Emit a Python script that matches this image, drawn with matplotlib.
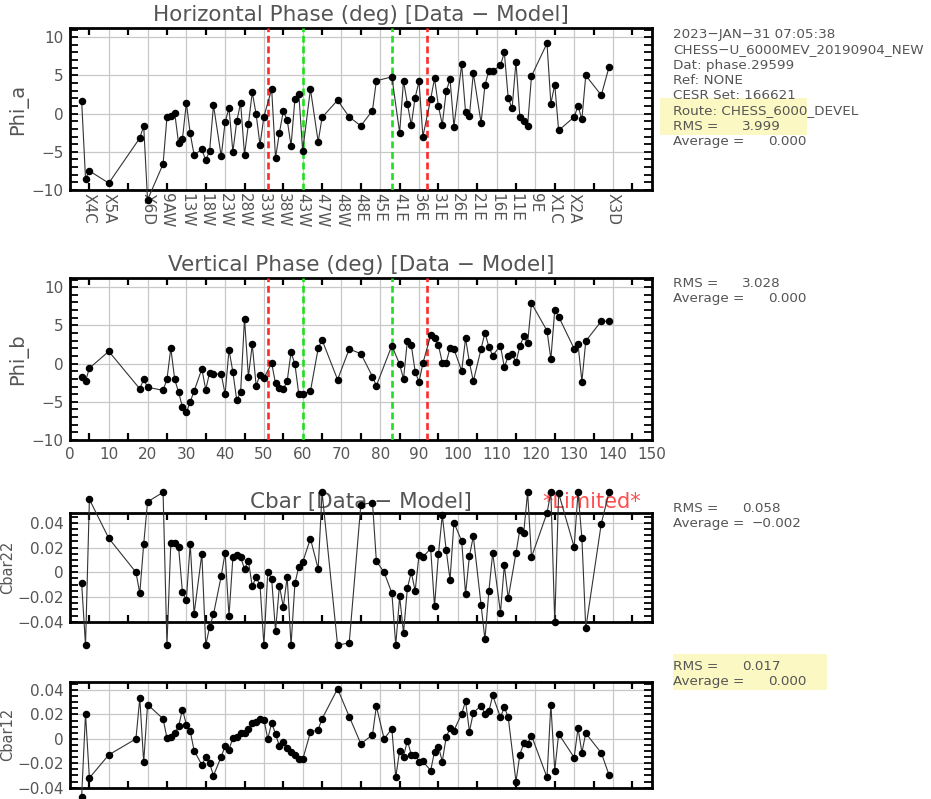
import numpy as np
import matplotlib
matplotlib.use('Agg')
import matplotlib.pyplot as plt
from matplotlib import transforms
from matplotlib.patches import Rectangle

# ---------------- data ----------------
x_phase = [3, 4, 5, 10, 18, 19, 20, 24, 25, 26, 27, 28, 29, 30, 31, 32, 34, 35, 36, 37,
           39, 40, 41, 42, 43, 44, 45, 46, 47, 48, 49, 50, 52, 53, 54, 55, 56, 57, 58, 59,
           60, 62, 64, 65, 69, 72, 75, 78, 79, 83, 85, 86, 87, 88, 89, 90, 91, 93, 94, 95,
           96, 97, 98, 99, 101, 102, 103, 104, 106, 107, 108, 109, 111, 112, 113, 114, 115,
           116, 117, 118, 119, 123, 124, 125, 126, 130, 131, 132, 133, 137, 139]

phi_a = [1.7, -8.5, -7.5, -9.1, -3.2, -1.6, -11.3, -6.6, -0.5, -0.3, 0.1, -3.9, -3.3, 1.4,
         -2.6, -5.4, -4.7, -6.1, -4.9, 1.1, -5.6, -1.1, 0.7, -5.0, -1.0, 1.4, -5.4, -1.4,
         2.8, -0.1, -4.1, -0.4, 3.2, -5.8, -2.5, 0.3, -0.8, -4.2, 1.9, 2.6, -4.9, 3.2, -3.7,
         -0.5, 1.75, -0.45, -1.6, 0.4, 4.3, 4.8, -2.5, 4.3, 1.3, -1.5, 2.1, 4.2, -3.0, 1.9,
         4.6, 1.0, -1.45, 2.9, 4.5, -1.7, 6.45, 0.2, -0.3, 5.3, -1.2, 3.7, 5.6, 5.6, 6.3,
         8.0, 2.0, 0.7, 6.8, -0.45, -1.0, -1.6, 4.9, 9.2, 1.3, 3.8, -2.2, -0.45, 1.0, -0.75,
         5.0, 2.4, 6.1]

phi_b = [-1.8, -2.3, -0.6, 1.6, -3.3, -2.05, -3.1, -3.5, -2.05, 2.0, -2.05, -3.75, -5.7,
         -6.4, -5.0, -3.6, -0.7, -3.4, -1.2, -1.35, -1.4, -4.0, 1.8, -1.1, -4.8, -3.7, 5.9,
         -1.7, 2.5, -2.9, -1.45, -1.9, 0.05, -2.6, -3.2, -3.35, -2.3, 1.5, -0.1, -4.0, -4.0,
         -3.6, 2.0, 3.1, -2.1, 1.9, 1.3, -1.7, -2.9, 2.35, -0.1, -2.0, 3.0, 2.45, -1.05,
         -2.4, 0.05, 3.7, 3.4, 2.45, 0.1, 0.1, 2.05, 1.9, -0.95, 3.3, 0.15, -2.3, 1.9, 4.05,
         2.2, 1.05, 2.35, -0.5, 1.0, 1.3, 0.15, 2.3, 3.55, 2.7, 7.9, 4.3, 0.6, 7.0, 6.15,
         1.95, 2.55, -2.35, 2.95, 5.55, 5.55]

x_cbar = [3, 4, 5, 10, 17, 18, 19, 20, 24, 25, 26, 27, 28, 29, 30, 31, 32, 34, 35, 36, 37,
          39, 40, 41, 42, 43, 44, 45, 46, 47, 48, 49, 50, 51, 52, 53, 54, 55, 56, 57, 58, 59,
          60, 62, 64, 65, 69, 72, 75, 78, 79, 81, 83, 84, 85, 86, 87, 88, 89, 90, 91, 93, 94,
          95, 96, 97, 98, 99, 101, 102, 103, 104, 106, 107, 108, 109, 111, 112, 113, 115,
          116, 117, 118, 119, 123, 124, 125, 126, 130, 131, 132, 133, 137, 139]

cbar22 = [-0.0087, -0.059, 0.059, 0.0275, 0.0, -0.017, 0.0226, 0.057, 0.0647, -0.059,
          0.024, 0.0234, 0.0204, -0.0163, -0.0223, 0.0231, -0.0337, 0.0149, -0.059, -0.0443,
          -0.034, -0.003, 0.0158, -0.0356, 0.012, 0.0141, 0.0122, 0.0027, 0.0092, -0.0114,
          -0.0038, -0.0106, -0.059, 0.0, -0.0054, -0.0476, -0.0109, -0.028, -0.0038, -0.059,
          -0.009, 0.0046, 0.0082, 0.0272, 0.0027, 0.0647, -0.059, -0.0571, 0.0547, 0.0563,
          0.009, 0.0, -0.0169, -0.059, -0.0196, -0.049, -0.0128, 0.0, -0.015, 0.0139, 0.0122,
          0.0193, -0.0277, 0.0144, 0.0463, 0.018, -0.006, 0.0402, 0.0253, -0.0177, 0.0131,
          0.0291, -0.0264, -0.0544, -0.0155, 0.0155, -0.0326, 0.0057, -0.021, 0.0155, 0.0345,
          0.0321, 0.0647, 0.0122, 0.0479, 0.0647, -0.0405, 0.064, 0.0204, 0.0647, 0.0275,
          -0.0454, 0.0394, 0.0647]

cbar12 = [-0.0473, 0.0205, -0.032, -0.0131, 0.0, 0.0333, -0.0192, 0.0281, 0.0164, 0.0008,
          0.0019, 0.0046, 0.0103, 0.024, 0.0117, 0.0063, -0.0096, -0.0213, -0.0151, -0.02,
          -0.0301, -0.0145, -0.006, -0.0088, 0.0008, 0.0014, 0.0049, 0.0049, 0.0082, 0.0128,
          0.0136, 0.0164, 0.0158, 0.0, 0.0131, 0.0041, -0.006, -0.0022, -0.0077, -0.011,
          -0.0129, -0.0164, -0.0169, 0.0054, 0.0076, 0.0164, 0.041, 0.0183, -0.0041, 0.0033,
          0.0267, 0.0, 0.0082, -0.0315, -0.0096, -0.0145, -0.0014, -0.0129, -0.0129, -0.0186,
          -0.0183, -0.026, -0.0104, -0.0063, -0.0186, 0.0014, 0.0087, 0.0068, 0.0205, 0.0309,
          0.006, 0.0213, 0.0273, 0.0205, 0.0224, 0.0355, 0.0177, 0.0259, 0.0177, -0.035,
          -0.0129, -0.0036, -0.0041, 0.0027, -0.0315, 0.0281, -0.026, 0.0041, -0.0153, 0.0087,
          -0.0112, 0.0046, -0.0115, -0.0295]

elem_pos = [5, 10, 20, 25, 30, 35, 40, 45, 50, 55, 60, 65, 70, 75, 80, 85, 90, 95, 100,
            105, 110, 115, 120, 125, 130, 140]
elem_names = ['X4C', 'X5A', 'X6D', '9AW', '13W', '18W', '23W', '28W', '33W', '38W', '43W',
              '47W', '48W', '48E', '45E', '41E', '36E', '31E', '26E', '21E', '16E', '11E',
              '9E', 'X1C', 'X2A', 'X3D']

red_lines = [51, 92]
green_lines = [60, 83]

phase_ticks = [-10, -5, 0, 5, 10]
phase_ticklabels = ['\u221210', '\u22125', '0', '5', '10']
cbar_ticks = [-0.04, -0.02, 0, 0.02, 0.04]
cbar_ticklabels = ['\u22120.04', '\u22120.02', '0', '0.02', '0.04']
x_ticks = list(range(0, 151, 10))

# ---------------- figure ----------------
W, H = 931, 799
fig = plt.figure(figsize=(W / 100, H / 100), dpi=100)
TEXT = '#555555'
TICK_FS = 11


def fx(x):
    return x / W


def fy(y):
    return 1 - y / H


def add_ax(top, bottom):
    return fig.add_axes([fx(70), fy(bottom), (651.7 - 70) / W, (bottom - top) / H])


def style(ax, ylim, yt, ytl, yminor):
    ax.set_xlim(0, 150)
    ax.set_ylim(*ylim)
    ax.set_xticks(x_ticks)
    ax.set_xticks(np.arange(5, 150, 10), minor=True)
    ax.set_yticks(yt)
    ax.set_yticklabels(ytl)
    ax.set_yticks(yminor, minor=True)
    ax.grid(True, which='major', color='#c8c8c8', lw=0.9)
    ax.tick_params(axis='x', which='major', length=0, top=True, bottom=True,
                   labelbottom=False, labelsize=TICK_FS, labelcolor=TEXT, pad=5)
    ax.tick_params(axis='x', which='minor', length=5, width=1.6, direction='in',
                   top=True, bottom=True, color='black')
    ax.tick_params(axis='y', which='both', length=6, width=1.3, direction='in',
                   left=True, right=True, color='black')
    ax.tick_params(axis='y', which='major', labelsize=TICK_FS, labelcolor=TEXT, pad=4.5)
    for s in ax.spines.values():
        s.set_linewidth(2.0)
        s.set_color('black')


def plot_series(ax, x, y):
    ax.plot(x, y, '-', color='#333333', lw=0.8, clip_on=False, zorder=4)
    ax.plot(x, y, 'o', color='black', ms=4.4, clip_on=False, zorder=5)


def title(ax, txt, dy, x=0.5, color=TEXT, size=15.5):
    tr = transforms.offset_copy(ax.transAxes, fig=fig, x=0, y=dy, units='dots')
    ax.text(x, 1, txt, transform=tr, ha='center', va='center', fontsize=size,
            color=color, zorder=1, clip_on=False)


ax1 = add_ax(28, 190)
ax2 = add_ax(278, 440)
ax3 = add_ax(513.3, 621.7)
ax4 = add_ax(681.7, 787.7)

style(ax1, (-10, 11.2), phase_ticks, phase_ticklabels, np.arange(-10, 12, 1))
style(ax2, (-10, 11.2), phase_ticks, phase_ticklabels, np.arange(-10, 12, 1))
style(ax3, (-0.04, 0.0477), cbar_ticks, cbar_ticklabels, np.arange(-0.04, 0.0476, 0.005))
style(ax4, (-0.04, 0.0468), cbar_ticks, cbar_ticklabels, np.arange(-0.04, 0.0466, 0.005))

ax2.tick_params(axis='x', which='major', labelbottom=True)
ax2.set_xticklabels([str(v) for v in x_ticks])

for ax in (ax1, ax2):
    for xv in red_lines:
        ax.axvline(xv, color='#ff2a2a', ls=(0, (2.6, 1.4)), lw=1.9, zorder=3)
    for xv in green_lines:
        ax.axvline(xv, color='#22dd22', ls=(0, (2.6, 1.4)), lw=1.9, zorder=3)

plot_series(ax1, x_phase, phi_a)
plot_series(ax2, x_phase, phi_b)
plot_series(ax3, x_cbar, cbar22)
plot_series(ax4, x_cbar, cbar12)

# element labels under top panel
tr_lab = transforms.offset_copy(ax1.get_xaxis_transform(), fig=fig, x=0, y=-3, units='dots')
for p, n in zip(elem_pos, elem_names):
    ax1.text(p, 0, n, transform=tr_lab, rotation=270, ha='center', va='top',
             fontsize=11, color=TEXT)

title(ax1, 'Horizontal Phase (deg) [Data \u2212 Model]', 13)
title(ax2, 'Vertical Phase (deg) [Data \u2212 Model]', 13)
title(ax3, 'Cbar [Data \u2212 Model]', 11)
title(ax3, '*Limited*', 11, x=(592 - 70) / 581.7, color='#ff4d4d', size=15)

# y labels
for txt, xc, yc, fs in [('Phi_a', 18, 109, 14), ('Phi_b', 18, 359, 14),
                        ('Cbar22', 8, 567.5, 10.5), ('Cbar12', 8, 734.7, 10.5)]:
    fig.text(fx(xc), fy(yc), txt, rotation=90, ha='center', va='center',
             fontsize=fs, color=TEXT)

# highlight boxes
fig.add_artist(Rectangle((fx(660), fy(135)), 147 / W, 37 / H, transform=fig.transFigure,
                         facecolor='#fcf8c4', edgecolor='none', zorder=0))
fig.add_artist(Rectangle((fx(673), fy(690)), 154 / W, 36 / H, transform=fig.transFigure,
                         facecolor='#fcf8c4', edgecolor='none', zorder=0))

FS = 9.7
info = ['2023-JAN-31 07:05:38', 'CHESS-U_6000MEV_20190904_NEW', 'Dat: phase.29599',
        'Ref: NONE', 'CESR Set: 166621', 'Route: CHESS_6000_DEVEL']
for i, t in enumerate(info):
    fig.text(fx(673), fy(38.3 + 15.2 * i), t.replace('-', '\u2212'), fontsize=FS,
             color=TEXT, va='baseline', ha='left')


def stats(y_rms, rms, avg, avg_x):
    fig.text(fx(673), fy(y_rms), 'RMS =', fontsize=FS, color=TEXT, va='baseline')
    fig.text(fx(742), fy(y_rms), rms, fontsize=FS, color=TEXT, va='baseline')
    fig.text(fx(673), fy(y_rms + 15.2), 'Average =', fontsize=FS, color=TEXT, va='baseline')
    fig.text(fx(avg_x), fy(y_rms + 15.2), avg, fontsize=FS, color=TEXT, va='baseline')


stats(129.5, '3.999', '0.000', 768)
stats(287.0, '3.028', '0.000', 768)
stats(512.0, '0.058', '\u22120.002', 752)
stats(670.0, '0.017', '0.000', 768)

fig.savefig('out.png', dpi=100)
